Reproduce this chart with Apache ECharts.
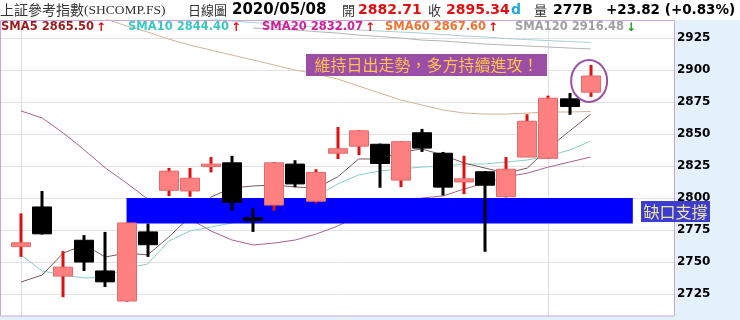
<!DOCTYPE html>
<html>
<head>
<meta charset="utf-8">
<script src="https://cdn.jsdelivr.net/npm/echarts@6/dist/echarts.min.js"></script>
<style>
  html, body { margin: 0; padding: 0; background: #ffffff; }
  #wrap { position: relative; width: 740px; height: 320px; overflow: hidden; }
  .pane { position: absolute; background: #e4f0fa; }
  #chart { position: absolute; left: 0; top: 0; width: 740px; height: 320px; }
</style>
</head>
<body>
<div id="wrap">
  <div class="pane" style="left:675px;top:20px;width:65px;height:300px"></div>
  <div class="pane" style="left:0;top:316px;width:675px;height:4px"></div>
  <div id="chart"></div>
</div>
<script>
// Daily bars, SHCOMP, 2020/03/26 - 2020/05/08
const dates = ['03/26','03/27','03/30','03/31','04/01','04/02','04/03','04/07','04/08','04/09',
               '04/10','04/13','04/14','04/15','04/16','04/17','04/20','04/21','04/22','04/23',
               '04/24','04/27','04/28','04/29','04/30','05/06','05/07','05/08'];
const opens  = [2762, 2793, 2739, 2767, 2743, 2719.5, 2773.5, 2806, 2805.5, 2825,
                2827.5, 2784.5, 2794.5, 2826.5, 2797.5, 2835, 2840.5, 2842, 2814, 2851,
                2835, 2812.5, 2820.5, 2801, 2832, 2831, 2877.5, 2882.71];
const closes = [2765, 2772, 2746, 2750, 2734.5, 2780.5, 2763.5, 2821, 2815.5, 2826,
                2796.5, 2782.5, 2827.5, 2811, 2820, 2838.5, 2852.5, 2827, 2844, 2839,
                2808.5, 2815, 2810, 2822.5, 2860, 2878, 2871.52, 2895.34];
const lows   = [2754, 2771.5, 2722.5, 2743, 2730.5, 2719, 2754, 2801.5, 2801, 2820,
                2790, 2773.5, 2790, 2808.5, 2796, 2830.5, 2833.5, 2808, 2808.5, 2836,
                2802, 2803, 2758, 2800.5, 2832, 2830.5, 2865, 2879];
const highs  = [2788, 2805.5, 2758.5, 2771, 2773.5, 2781, 2780, 2823.5, 2823.5, 2832,
                2833, 2792, 2828, 2829.5, 2822.5, 2855.5, 2853, 2842.5, 2844.5, 2854,
                2836, 2833, 2821, 2832, 2865.5, 2880, 2882, 2904];

// Moving averages
const sma5   = [2734.4, 2739.8, 2757.0, 2763.3, 2753.9, 2757.0, 2755.5, 2769.5, 2785.2, 2800.8,
                2807.8, 2809.4, 2810.2, 2808.6, 2807.8, 2816.4, 2830.5, 2830.5, 2835.9, 2838.3,
                2833.6, 2827.3, 2823.4, 2819.5, 2823.4, 2839.1, 2852.3, 2865.50];
const sma10  = [2755.5, 2743.0, 2739.8, 2737.5, 2738.3, 2745.3, 2748.4, 2766.4, 2774.2, 2777.3,
                2780.5, 2783.6, 2788.3, 2794.5, 2801.6, 2810.9, 2818.0, 2821.1, 2822.7, 2824.2,
                2825.0, 2826.6, 2826.6, 2828.1, 2829.7, 2832.8, 2837.5, 2844.40];
const sma20  = [2868.0, 2862.5, 2850.8, 2837.5, 2823.4, 2811.7, 2799.2, 2791.4, 2783.6, 2774.2,
                2767.2, 2763.3, 2764.8, 2767.2, 2771.9, 2778.1, 2786.1, 2791.4, 2796.1, 2800.0,
                2801.6, 2807.0, 2811.7, 2816.4, 2819.5, 2824.2, 2828.1, 2832.07];
const sma60  = [null, null, null, null, 2940.0, 2934.4, 2929.7, 2924.2, 2919.5, 2915.6,
                2911.7, 2907.8, 2903.9, 2900.0, 2896.9, 2893.0, 2887.5, 2882.0, 2876.6, 2872.7,
                2868.8, 2866.4, 2865.6, 2865.6, 2866.4, 2867.2, 2867.2, 2867.60];
const sma120 = [null, null, null, null, null, null, null, null, null, null,
                null, 2932.8, 2932.0, 2931.3, 2930.0, 2928.9, 2927.3, 2926.2, 2925.0, 2923.4,
                2922.7, 2921.5, 2920.3, 2919.5, 2918.8, 2918.0, 2917.2, 2916.48];
const smaLong = [null, null, null, null, null, null, null, null, null, 2939.8,
                2938.3, 2937.1, 2935.9, 2934.8, 2933.6, 2932.4, 2931.3, 2930.5, 2929.7, 2928.9,
                2927.7, 2926.6, 2925.8, 2924.6, 2923.8, 2923.0, 2922.3, 2921.5];

const yTicks = [2725, 2750, 2775, 2800, 2825, 2850, 2875, 2900, 2925];

// Gap support zone
const gapStart = '04/02';
const gapLow = 2780, gapHigh = 2800;

// Category slots: one blank before the first bar and four after the last
const categories = [' '].concat(dates, ['  ', '   ', '    ', '     ']);
const slot = d => categories.indexOf(d);
const lastSlot = slot(dates[dates.length - 1]);

const toLine = arr => arr.map((v, k) => [k + 1, v]);

const lineSeries = (name, data, color) => ({
  name, type: 'line', data: toLine(data), symbol: 'none', z: 2,
  lineStyle: { width: 1, color }, silent: true, animation: false
});

const chart = echarts.init(document.getElementById('chart'), null, { renderer: 'canvas' });

const hdr = (x, text, style) => Object.assign({
  type: 'text', x, y: 10, z: 100,
  style: Object.assign({ text, fontSize: 14, fontFamily: 'DejaVu Sans', fontWeight: 'bold',
                         fill: '#000', verticalAlign: 'middle', align: 'left' }, style)
});

const lg = (x, text, color, arrow, arrowColor) => ({
  type: 'text', x, y: 27.5, z: 100,
  style: {
    text: '{a|' + text + '}{b|' + arrow + '}',
    verticalAlign: 'middle', align: 'left',
    rich: {
      a: { fontSize: 11.5, fontFamily: 'DejaVu Sans', fontWeight: 'bold', fill: color },
      b: { fontSize: 12, fontFamily: 'DejaVu Sans', fontWeight: 'bold', fill: arrowColor, padding: [0, 0, 0, 2] }
    }
  }
});

const option = {
  animation: false,
  backgroundColor: 'transparent',
  grid: { left: 0, top: 20, width: 675, height: 296, containLabel: false },
  xAxis: {
    type: 'category', data: categories, boundaryGap: false,
    axisLine: { show: false }, axisTick: { show: false }, axisLabel: { show: false },
    splitLine: { show: true, interval: (idx) => idx === 1 || idx === 26,
                 lineStyle: { color: '#dedede', width: 1 } }
  },
  yAxis: {
    type: 'value', position: 'right', min: 2707.8, max: 2939.1, scale: true,
    axisLine: { show: false },
    axisTick: { show: false, customValues: yTicks },
    axisLabel: { customValues: yTicks, formatter: v => String(v), color: '#000', fontWeight: 'bold',
                 fontSize: 12, fontFamily: 'DejaVu Sans', margin: 2 },
    splitLine: { show: true, lineStyle: { color: '#e2e2e2', width: 1 } }
  },
  series: [
    lineSeries('SMA240', smaLong, '#a9cfd0'),
    lineSeries('SMA120', sma120, '#b4b4b4'),
    lineSeries('SMA60', sma60, '#d4b394'),
    lineSeries('SMA20', sma20, '#a8608c'),
    lineSeries('SMA10', sma10, '#86cfc4'),
    lineSeries('SMA5', sma5, '#765a5a'),
    {
      name: 'gap', type: 'custom', z: 3, silent: true,
      data: [[slot(gapStart), gapHigh, lastSlot + 2, gapLow]],
      encode: { x: [0, 2], y: [1, 3] },
      renderItem: (params, api) => {
        const p1 = api.coord([api.value(0), api.value(1)]);
        const p2 = api.coord([api.value(2), api.value(3)]);
        return { type: 'rect', shape: { x: p1[0], y: p1[1], width: p2[0] - p1[0], height: p2[1] - p1[1] },
                 style: { fill: '#0000ff' } };
      }
    },
    {
      name: 'SHCOMP', type: 'custom', z: 4, silent: true,
      data: dates.map((d, k) => [k + 1, opens[k], closes[k], lows[k], highs[k]]),
      encode: { x: 0, y: [1, 2, 3, 4] },
      renderItem: (params, api) => {
        const i = api.value(0);
        const o = api.value(1), c = api.value(2), l = api.value(3), h = api.value(4);
        const pO = api.coord([i, o]), pC = api.coord([i, c]);
        const pL = api.coord([i, l]), pH = api.coord([i, h]);
        const up = c >= o;
        const bw = 19;
        let top = Math.min(pO[1], pC[1]);
        let ht = Math.abs(pO[1] - pC[1]);
        if (ht < 2.5) { top -= (2.5 - ht) / 2; ht = 2.5; }
        const x = Math.round(pO[0]);
        return {
          type: 'group',
          children: [
            { type: 'line', shape: { x1: x, y1: pH[1], x2: x, y2: pL[1] },
              style: { stroke: up ? '#dd1111' : '#000000', lineWidth: 3 } },
            { type: 'rect', shape: { x: x - bw / 2, y: top, width: bw, height: ht },
              style: { fill: up ? '#ff8080' : '#000000', stroke: up ? '#e46a6a' : '#000000', lineWidth: 1 } }
          ]
        };
      }
    },
    {
      name: 'focus', type: 'custom', z: 5, silent: true,
      data: [[lastSlot, (highs[highs.length - 1] + lows[lows.length - 1]) / 2]],
      encode: { x: 0, y: 1 },
      renderItem: (params, api) => {
        const p = api.coord([api.value(0), api.value(1)]);
        const rx = 18, ry = 21;
        return {
          type: 'path',
          shape: { pathData: 'M0,1 A1,1 0 1,0 2,1 A1,1 0 1,0 0,1 Z',
                   x: p[0] - rx - 1.5, y: p[1] - ry, width: rx * 2, height: ry * 2, layout: 'cover' },
          style: { fill: 'none', stroke: '#9a4fa8', lineWidth: 2 }
        };
      }
    }
  ],
  graphic: [
    // plot frame
    { type: 'rect', z: 90, silent: true, shape: { x: 0.5, y: 20.5, width: 674, height: 295.5 },
      style: { fill: 'none', stroke: '#c9a6d8', lineWidth: 1 } },
    // header
    { type: 'text', x: 0, y: 10, z: 100,
      style: { text: '{c|上証參考指數}{l|(SHCOMP.FS)}', verticalAlign: 'middle', align: 'left',
               rich: { c: { fontFamily: 'Noto Sans CJK TC', fontSize: 14, fill: '#333' },
                       l: { fontFamily: 'Liberation Serif', fontSize: 13.5, fill: '#333' } } } },
    hdr(188, '日線圖', { fontFamily: 'Noto Sans CJK TC', fontWeight: 'normal', fontSize: 13, fill: '#333' }),
    hdr(232, '2020/05/08', { fontSize: 15 }),
    hdr(342, '開', { fontFamily: 'Noto Sans CJK TC', fontWeight: 'normal', fontSize: 13, fill: '#333' }),
    hdr(358, '2882.71', { fill: '#e01010' }),
    hdr(428, '收', { fontFamily: 'Noto Sans CJK TC', fontWeight: 'normal', fontSize: 13, fill: '#333' }),
    hdr(446, '2895.34', { fill: '#e01010' }),
    hdr(511, 'd', { fill: '#22a8d8' }),
    hdr(534, '量', { fontFamily: 'Noto Sans CJK TC', fontWeight: 'normal', fontSize: 13, fill: '#333' }),
    hdr(553, '277B', {}),
    hdr(606, '+23.82 (+0.83%)', { fontSize: 13.5 }),
    // moving-average legend
    lg(1, 'SMA5 2865.50', '#9a1c1c', '↑', '#e01010'),
    lg(128, 'SMA10 2844.40', '#3cc6c6', '↑', '#e01010'),
    lg(262, 'SMA20 2832.07', '#d0209c', '↑', '#e01010'),
    lg(385, 'SMA60 2867.60', '#ee7430', '↑', '#e01010'),
    lg(515, 'SMA120 2916.48', '#a0a0a0', '↓', '#22a022'),
    // annotations
    { type: 'rect', z: 100, shape: { x: 306, y: 54, width: 241, height: 22 }, style: { fill: '#9b4ea6' } },
    { type: 'text', z: 101, x: 426.5, y: 65,
      style: { text: '維持日出走勢，多方持續進攻！', fontFamily: 'Noto Sans CJK TC', fontSize: 16,
               fill: '#ffc24a', align: 'center', verticalAlign: 'middle' } },
    { type: 'rect', z: 100, shape: { x: 641, y: 201, width: 69, height: 21 }, style: { fill: '#3c3cd0' } },
    { type: 'text', z: 101, x: 675.5, y: 211.5,
      style: { text: '缺口支撐', fontFamily: 'Noto Sans CJK TC', fontSize: 16,
               fill: '#eee49a', align: 'center', verticalAlign: 'middle' } }
  ]
};

chart.setOption(option);
</script>
</body>
</html>
